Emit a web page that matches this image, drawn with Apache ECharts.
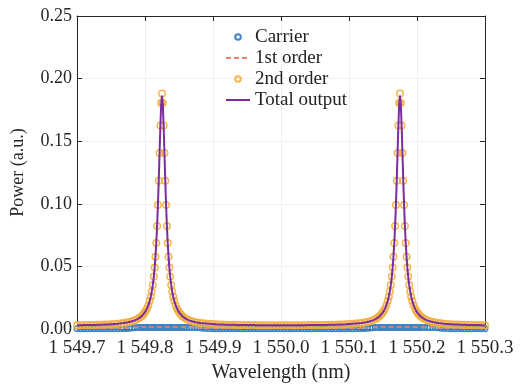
<!DOCTYPE html>
<html>
<head>
<meta charset="utf-8">
<script src="https://cdn.jsdelivr.net/npm/echarts@6/dist/echarts.min.js"></script>
<style>
html,body{margin:0;padding:0;background:#fff;}
#chart{width:522px;height:387px;}
</style>
</head>
<body>
<div id="chart"></div>
<script>
// Wavelength samples (nm)
const wavelength = [
  1549.700,1549.705,1549.710,1549.715,1549.720,1549.725,1549.730,1549.735,1549.740,1549.745,1549.750,1549.755,1549.760,
  1549.765,1549.769,1549.773,1549.777,1549.781,1549.785,1549.789,1549.792,1549.795,1549.797,1549.799,1549.801,1549.803,1549.805,1549.807,1549.8085,1549.810,1549.8115,1549.813,1549.8142,1549.8154,1549.8166,1549.8178,1549.819,1549.8202,1549.8214,1549.8226,1549.8238,
  1549.825,
  1549.8262,1549.8274,1549.8286,1549.8298,1549.831,1549.8322,1549.8334,1549.8346,1549.8358,1549.837,1549.8385,1549.840,1549.8415,1549.843,1549.845,1549.847,1549.849,1549.851,1549.853,1549.855,1549.858,1549.861,1549.865,1549.869,1549.873,1549.877,1549.881,1549.885,
  1549.890,1549.895,1549.900,1549.905,1549.910,1549.915,1549.920,1549.925,1549.930,1549.935,1549.940,1549.945,1549.950,1549.955,1549.960,1549.965,1549.970,1549.975,1549.980,1549.985,1549.990,1549.995,
  1550.000,
  1550.005,1550.010,1550.015,1550.020,1550.025,1550.030,1550.035,1550.040,1550.045,1550.050,1550.055,1550.060,1550.065,1550.070,1550.075,1550.080,1550.085,1550.090,1550.095,1550.100,1550.105,1550.110,
  1550.115,1550.119,1550.123,1550.127,1550.131,1550.135,1550.139,1550.142,1550.145,1550.147,1550.149,1550.151,1550.153,1550.155,1550.157,1550.1585,1550.160,1550.1615,1550.163,1550.1642,1550.1654,1550.1666,1550.1678,1550.169,1550.1702,1550.1714,1550.1726,1550.1738,
  1550.175,
  1550.1762,1550.1774,1550.1786,1550.1798,1550.181,1550.1822,1550.1834,1550.1846,1550.1858,1550.187,1550.1885,1550.190,1550.1915,1550.193,1550.195,1550.197,1550.199,1550.201,1550.203,1550.205,1550.208,1550.211,1550.215,1550.219,1550.223,1550.227,1550.231,1550.235,
  1550.240,1550.245,1550.250,1550.255,1550.260,1550.265,1550.270,1550.275,1550.280,1550.285,1550.290,1550.295,1550.300
];

// Carrier power (a.u.)
const carrier = [
  0.0002,0.0002,0.0002,0.0002,0.0002,0.0002,0.0002,0.0002,0.0002,0.0002,0.0002,0.0002,0.0002,
  0.0003,0.0003,0.0004,0.0006,0.0008,0.0010,0.0012,0.0012,0.0012,0.0012,0.0012,0.0012,0.0012,0.0012,0.0012,0.0012,0.0012,0.0012,0.0012,0.0012,0.0012,0.0012,0.0012,0.0012,0.0012,0.0012,0.0012,0.0012,
  0.0012,
  0.0012,0.0012,0.0012,0.0012,0.0012,0.0012,0.0012,0.0012,0.0012,0.0012,0.0012,0.0012,0.0012,0.0012,0.0012,0.0012,0.0012,0.0012,0.0012,0.0012,0.0012,0.0012,0.0012,0.0012,0.0012,0.0011,0.0009,0.0006,
  0.0004,0.0003,0.0002,0.0002,0.0002,0.0002,0.0002,0.0002,0.0002,0.0002,0.0002,0.0002,0.0002,0.0002,0.0002,0.0002,0.0002,0.0002,0.0002,0.0002,0.0002,0.0002,
  0.0002,
  0.0002,0.0002,0.0002,0.0002,0.0002,0.0002,0.0002,0.0002,0.0002,0.0002,0.0002,0.0002,0.0002,0.0002,0.0002,0.0002,0.0002,0.0002,0.0002,0.0002,0.0002,0.0002,
  0.0003,0.0003,0.0004,0.0006,0.0008,0.0010,0.0012,0.0012,0.0012,0.0012,0.0012,0.0012,0.0012,0.0012,0.0012,0.0012,0.0012,0.0012,0.0012,0.0012,0.0012,0.0012,0.0012,0.0012,0.0012,0.0012,0.0012,0.0012,
  0.0012,
  0.0012,0.0012,0.0012,0.0012,0.0012,0.0012,0.0012,0.0012,0.0012,0.0012,0.0012,0.0012,0.0012,0.0012,0.0012,0.0012,0.0012,0.0012,0.0012,0.0012,0.0012,0.0012,0.0012,0.0012,0.0012,0.0011,0.0009,0.0006,
  0.0004,0.0003,0.0002,0.0002,0.0002,0.0002,0.0002,0.0002,0.0002,0.0002,0.0002,0.0002,0.0002
];

// 1st order sideband power (a.u.)
const firstOrder = [
  0.0003,0.0003,0.0003,0.0003,0.0003,0.0003,0.0003,0.0003,0.0003,0.0003,0.0003,0.0003,0.0003,
  0.0004,0.0005,0.0007,0.0009,0.0011,0.0013,0.0014,0.0015,0.0015,0.0015,0.0015,0.0015,0.0015,0.0015,0.0015,0.0015,0.0015,0.0015,0.0015,0.0015,0.0015,0.0015,0.0015,0.0015,0.0015,0.0015,0.0015,0.0015,
  0.0015,
  0.0015,0.0015,0.0015,0.0015,0.0015,0.0015,0.0015,0.0015,0.0015,0.0015,0.0015,0.0015,0.0015,0.0015,0.0015,0.0015,0.0015,0.0015,0.0015,0.0015,0.0015,0.0015,0.0015,0.0015,0.0014,0.0012,0.0009,0.0006,
  0.0004,0.0003,0.0003,0.0003,0.0003,0.0003,0.0003,0.0003,0.0003,0.0003,0.0003,0.0003,0.0003,0.0003,0.0003,0.0003,0.0003,0.0003,0.0003,0.0003,0.0003,0.0003,
  0.0003,
  0.0003,0.0003,0.0003,0.0003,0.0003,0.0003,0.0003,0.0003,0.0003,0.0003,0.0003,0.0003,0.0003,0.0003,0.0003,0.0003,0.0003,0.0003,0.0003,0.0003,0.0003,0.0003,
  0.0004,0.0005,0.0007,0.0009,0.0011,0.0013,0.0014,0.0015,0.0015,0.0015,0.0015,0.0015,0.0015,0.0015,0.0015,0.0015,0.0015,0.0015,0.0015,0.0015,0.0015,0.0015,0.0015,0.0015,0.0015,0.0015,0.0015,0.0015,
  0.0015,
  0.0015,0.0015,0.0015,0.0015,0.0015,0.0015,0.0015,0.0015,0.0015,0.0015,0.0015,0.0015,0.0015,0.0015,0.0015,0.0015,0.0015,0.0015,0.0015,0.0015,0.0015,0.0015,0.0015,0.0015,0.0014,0.0012,0.0009,0.0006,
  0.0004,0.0003,0.0003,0.0003,0.0003,0.0003,0.0003,0.0003,0.0003,0.0003,0.0003,0.0003,0.0003
];

// 2nd order sideband power (a.u.)
const secondOrder = [
  0.0030,0.0030,0.0031,0.0031,0.0032,0.0032,0.0033,0.0034,0.0035,0.0036,0.0038,0.0040,0.0042,
  0.0045,0.0048,0.0051,0.0056,0.0062,0.0069,0.0079,0.0089,0.0102,0.0113,0.0127,0.0143,0.0164,0.0190,0.0225,0.0258,0.0299,0.0352,0.0420,0.0491,0.0578,0.0687,0.0823,0.0990,0.1185,0.1405,0.1625,0.1805,
  0.1880,
  0.1805,0.1625,0.1405,0.1185,0.0990,0.0823,0.0687,0.0578,0.0491,0.0420,0.0352,0.0299,0.0258,0.0225,0.0190,0.0164,0.0143,0.0127,0.0113,0.0102,0.0089,0.0079,0.0069,0.0062,0.0056,0.0051,0.0048,0.0045,
  0.0043,0.0041,0.0039,0.0037,0.0036,0.0035,0.0034,0.0033,0.0033,0.0032,0.0032,0.0031,0.0031,0.0031,0.0031,0.0030,0.0030,0.0030,0.0030,0.0030,0.0030,0.0030,
  0.0030,
  0.0030,0.0030,0.0030,0.0030,0.0030,0.0030,0.0030,0.0031,0.0031,0.0031,0.0031,0.0032,0.0032,0.0033,0.0033,0.0034,0.0035,0.0036,0.0037,0.0039,0.0041,0.0043,
  0.0045,0.0048,0.0051,0.0056,0.0062,0.0069,0.0079,0.0089,0.0102,0.0113,0.0127,0.0143,0.0164,0.0190,0.0225,0.0258,0.0299,0.0352,0.0420,0.0491,0.0578,0.0687,0.0823,0.0990,0.1185,0.1405,0.1625,0.1805,
  0.1880,
  0.1805,0.1625,0.1405,0.1185,0.0990,0.0823,0.0687,0.0578,0.0491,0.0420,0.0352,0.0299,0.0258,0.0225,0.0190,0.0164,0.0143,0.0127,0.0113,0.0102,0.0089,0.0079,0.0069,0.0062,0.0056,0.0051,0.0048,0.0045,
  0.0042,0.0040,0.0038,0.0036,0.0035,0.0034,0.0033,0.0032,0.0032,0.0031,0.0031,0.0030,0.0030
];

// Total output power (a.u.)
const totalOutput = [
  0.0030,0.0030,0.0031,0.0031,0.0032,0.0032,0.0033,0.0034,0.0035,0.0036,0.0038,0.0040,0.0042,
  0.0045,0.0048,0.0051,0.0056,0.0062,0.0069,0.0079,0.0089,0.0102,0.0113,0.0127,0.0143,0.0164,0.0190,0.0225,0.0258,0.0299,0.0352,0.0420,0.0491,0.0578,0.0687,0.0823,0.0990,0.1185,0.1405,0.1620,0.1795,
  0.1865,
  0.1795,0.1620,0.1405,0.1185,0.0990,0.0823,0.0687,0.0578,0.0491,0.0420,0.0352,0.0299,0.0258,0.0225,0.0190,0.0164,0.0143,0.0127,0.0113,0.0102,0.0089,0.0079,0.0069,0.0062,0.0056,0.0051,0.0048,0.0045,
  0.0043,0.0041,0.0039,0.0037,0.0036,0.0035,0.0034,0.0033,0.0033,0.0032,0.0032,0.0031,0.0031,0.0031,0.0031,0.0030,0.0030,0.0030,0.0030,0.0030,0.0030,0.0030,
  0.0030,
  0.0030,0.0030,0.0030,0.0030,0.0030,0.0030,0.0030,0.0031,0.0031,0.0031,0.0031,0.0032,0.0032,0.0033,0.0033,0.0034,0.0035,0.0036,0.0037,0.0039,0.0041,0.0043,
  0.0045,0.0048,0.0051,0.0056,0.0062,0.0069,0.0079,0.0089,0.0102,0.0113,0.0127,0.0143,0.0164,0.0190,0.0225,0.0258,0.0299,0.0352,0.0420,0.0491,0.0578,0.0687,0.0823,0.0990,0.1185,0.1405,0.1620,0.1795,
  0.1865,
  0.1795,0.1620,0.1405,0.1185,0.0990,0.0823,0.0687,0.0578,0.0491,0.0420,0.0352,0.0299,0.0258,0.0225,0.0190,0.0164,0.0143,0.0127,0.0113,0.0102,0.0089,0.0079,0.0069,0.0062,0.0056,0.0051,0.0048,0.0045,
  0.0042,0.0040,0.0038,0.0036,0.0035,0.0034,0.0033,0.0032,0.0032,0.0031,0.0031,0.0030,0.0030
];

const seriesNames = ['Carrier', '1st order', '2nd order', 'Total output'];
const xTickLabels = ['1 549.7','1 549.8','1 549.9','1 550.0','1 550.1','1 550.2','1 550.3'];
const yTickLabels = ['0.00','0.05','0.10','0.15','0.20','0.25'];
const xName = 'Wavelength (nm)';
const yName = 'Power (a.u.)';

const FONT = 'Liberation Serif';
const AX = '#262626';
const C_BLUE = '#3d85c6', C_RED = '#ef8466', C_ORANGE = '#f3ae3a', C_PURPLE = '#7b2d9f';
const pair = arr => wavelength.map((w, i) => [w, arr[i]]);

const xBase = {
  type: 'value', min: 1549.7, max: 1550.3, interval: 0.1,
  axisLine: { show: true, onZero: false, lineStyle: { color: AX, width: 1 } },
  axisTick: { show: true, inside: true, length: 5, lineStyle: { color: AX } }
};
const yBase = {
  type: 'value', min: 0, max: 0.25, interval: 0.05,
  axisLine: { show: true, onZero: false, lineStyle: { color: AX, width: 1 } },
  axisTick: { show: true, inside: true, length: 5, lineStyle: { color: AX } }
};
const hiddenSymbol = { color: 'rgba(0,0,0,0)', borderColor: 'rgba(0,0,0,0)', borderWidth: 0 };

const chart = echarts.init(document.getElementById('chart'), null, { renderer: 'canvas' });
chart.setOption({
  animation: false,
  backgroundColor: '#fff',
  grid: { left: 77, right: 37, top: 16, bottom: 58, containLabel: false, outerBoundsMode: 'none' },
  legend: {
    orient: 'vertical', left: 220, top: 22,
    itemWidth: 24, itemHeight: 7, itemGap: 1,
    data: [
      { name: seriesNames[0] },
      { name: seriesNames[1], itemStyle: hiddenSymbol },
      { name: seriesNames[2] },
      { name: seriesNames[3], itemStyle: hiddenSymbol }
    ],
    textStyle: { fontFamily: FONT, fontSize: 19, color: '#222', lineHeight: 20 }
  },
  xAxis: [
    Object.assign({}, xBase, {
      position: 'bottom',
      axisLabel: {
        fontFamily: FONT, fontSize: 19, color: AX, margin: 10,
        formatter: v => xTickLabels[Math.round((v - 1549.7) / 0.1)]
      },
      splitLine: { show: true, lineStyle: { color: '#f0f0f0', width: 1 } },
      name: xName, nameLocation: 'middle', nameGap: 34,
      nameTextStyle: { fontFamily: FONT, fontSize: 20, color: AX }
    }),
    Object.assign({}, xBase, {
      position: 'top', axisLabel: { show: false }, splitLine: { show: false }
    })
  ],
  yAxis: [
    Object.assign({}, yBase, {
      position: 'left',
      axisLabel: {
        fontFamily: FONT, fontSize: 18, color: AX, margin: 5,
        formatter: v => yTickLabels[Math.round(v / 0.05)]
      },
      splitLine: { show: true, lineStyle: { color: '#f0f0f0', width: 1 } },
      name: yName, nameLocation: 'middle', nameGap: 50,
      nameTextStyle: { fontFamily: FONT, fontSize: 18, color: AX }
    }),
    Object.assign({}, yBase, {
      position: 'right', axisLabel: { show: false }, splitLine: { show: false }
    })
  ],
  series: [
    {
      name: seriesNames[0], type: 'line', xAxisIndex: 0, yAxisIndex: 0,
      data: pair(carrier), z: 2,
      symbol: 'circle', symbolSize: 5.5, showSymbol: true, showAllSymbol: true,
      itemStyle: { color: 'rgba(0,0,0,0)', borderColor: C_BLUE, borderWidth: 1.4 },
      lineStyle: { width: 0, color: C_BLUE }
    },
    {
      name: seriesNames[1], type: 'line', xAxisIndex: 0, yAxisIndex: 0,
      data: pair(firstOrder), z: 3, symbol: 'none',
      itemStyle: { color: C_RED },
      lineStyle: { width: 1.5, type: [5, 3], color: C_RED }
    },
    {
      name: seriesNames[2], type: 'line', xAxisIndex: 0, yAxisIndex: 0,
      data: pair(secondOrder), z: 4,
      symbol: 'circle', symbolSize: 6.5, showSymbol: true, showAllSymbol: true,
      itemStyle: { color: 'rgba(0,0,0,0)', borderColor: C_ORANGE, borderWidth: 1.5, opacity: 0.9 },
      lineStyle: { width: 0, color: C_ORANGE }
    },
    {
      name: seriesNames[3], type: 'line', xAxisIndex: 0, yAxisIndex: 0,
      data: pair(totalOutput), z: 5, symbol: 'none',
      itemStyle: { color: C_PURPLE },
      lineStyle: { width: 2, color: C_PURPLE }
    }
  ]
});
</script>
</body>
</html>
